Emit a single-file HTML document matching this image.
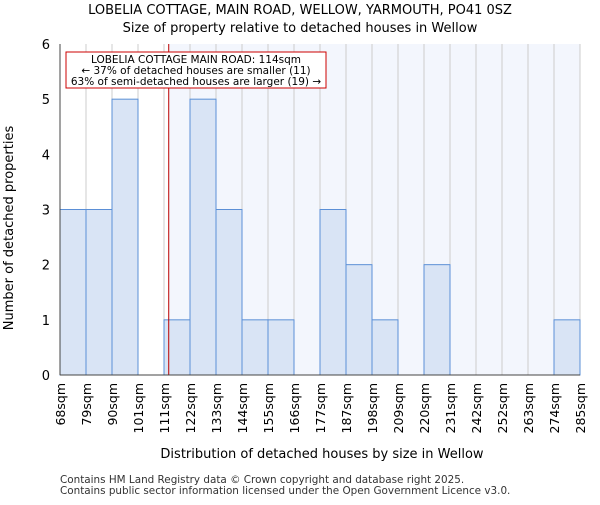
<!DOCTYPE html><html><head><meta charset="utf-8"><style>body{margin:0;background:#fff}svg text{font-family:"DejaVu Sans","Liberation Sans",sans-serif}</style></head><body>
<svg id="c" width="600" height="500" xmlns="http://www.w3.org/2000/svg">
<text x="300" y="14" text-anchor="middle" font-size="13">LOBELIA COTTAGE, MAIN ROAD, WELLOW, YARMOUTH, PO41 0SZ</text>
<text x="300" y="32" text-anchor="middle" font-size="13">Size of property relative to detached houses in Wellow</text>
<g id="plot"></g>
<text x="322" y="458" text-anchor="middle" font-size="13">Distribution of detached houses by size in Wellow</text>
<text transform="translate(13,228) rotate(-90)" text-anchor="middle" font-size="13">Number of detached properties</text>
<text x="60" y="483" font-size="10.4" fill="#333">Contains HM Land Registry data © Crown copyright and database right 2025.</text>
<text x="60" y="494" font-size="10.4" fill="#333">Contains public sector information licensed under the Open Government Licence v3.0.</text>
</svg>
<script>
const categories=["68sqm","79sqm","90sqm","101sqm","111sqm","122sqm","133sqm","144sqm","155sqm","166sqm","177sqm","187sqm","198sqm","209sqm","220sqm","231sqm","242sqm","252sqm","263sqm","274sqm","285sqm"];
const counts=[3,3,5,0,1,5,3,1,1,0,3,2,1,0,2,0,0,0,0,1];
const yTicks=[0,1,2,3,4,5,6];
const subjectSize=114;
const NS="http://www.w3.org/2000/svg";
const g=document.getElementById('plot');
const L=60,R=580,T=44,B=375,n=counts.length,bw=(R-L)/n;
const x=i=>L+i*bw, y=v=>B-(v/6)*(B-T);
const sx=v=>L+(v-68)/(285-68)*(R-L)-1.5;
function mk(t,a){const e=document.createElementNS(NS,t);for(const k in a)e.setAttribute(k,a[k]);g.appendChild(e);return e;}
const lx=sx(subjectSize);
let e=mk('rect',{x:lx,y:T,width:R-lx,height:B-T,fill:'#f3f6fd'});


for(let i=0;i<=n;i++){e=mk('line',{x1:x(i),x2:x(i),y1:T,y2:B,stroke:'#cccccc','stroke-width':1});

}
counts.forEach((v,i)=>{if(v<=0)return;e=mk('rect',{x:x(i),y:y(v),width:bw,height:B-y(v),fill:'#d9e4f5',stroke:'#5b8fd6','stroke-width':1});

});
e=mk('line',{x1:lx,x2:lx,y1:T,y2:B,stroke:'#bb0000','stroke-width':1});


e=mk('line',{x1:L,x2:L,y1:T,y2:B,stroke:'#444'});


e=mk('line',{x1:L,x2:R,y1:B,y2:B,stroke:'#444'});


yTicks.forEach(t=>{e=mk('text',{x:L-10,y:y(t)+5,'text-anchor':'end','font-size':13});e.textContent=t;

});
categories.forEach((c,i)=>{const px=x(i);e=mk('text',{transform:`translate(${px+5},${B+8}) rotate(-90)`,'text-anchor':'end','font-size':12.5});e.textContent=c;

});
e=mk('rect',{x:66,y:52,width:260,height:36,fill:'#fff',stroke:'#cc0000','stroke-width':1});


["LOBELIA COTTAGE MAIN ROAD: "+subjectSize+"sqm","← 37% of detached houses are smaller (11)","63% of semi-detached houses are larger (19) →"].forEach((s,k)=>{e=mk('text',{x:196,y:63+k*11,'text-anchor':'middle','font-size':10.5});e.textContent=s;

});
</script></body></html>
